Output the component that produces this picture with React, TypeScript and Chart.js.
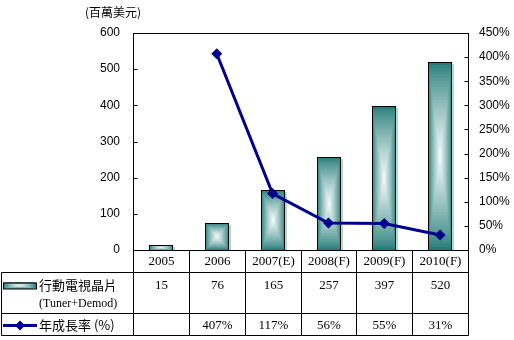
import React, { useEffect, useRef } from "react";
import { Chart, registerables } from "chart.js";

Chart.register(...registerables);

const categories = ["2005", "2006", "2007(E)", "2008(F)", "2009(F)", "2010(F)"];
const chipSales = [15, 76, 165, 257, 397, 520];
const growthRate = [null, 407, 117, 56, 55, 31];
const salesLabels = ["15", "76", "165", "257", "397", "520"];
const growthLabels = ["", "407%", "117%", "56%", "55%", "31%"];
const barLegend = "行動電視晶片";
const barLegendSub = "(Tuner+Demod)";
const lineLegend = "年成長率 (%)";
const unitLabel = "(百萬美元)";

const EDGE = [38, 124, 120];
const CENTER = [246, 252, 252];
const NAVY = "#00008B";
const SERIF = "'Liberation Serif', 'Times New Roman', serif";
const CJK = "'Noto Sans CJK TC', 'Noto Sans', sans-serif";
const SANS = "'Liberation Sans', Arial, sans-serif";

function mix(t: number) {
  const c = EDGE.map((e, i) => Math.round(e + (CENTER[i] - e) * t));
  return `rgb(${c[0]},${c[1]},${c[2]})`;
}

function drawGradRect(ctx: CanvasRenderingContext2D, left: number, top: number, w: number, h: number) {
  const N = 30;
  const cx = left + w / 2;
  const cy = top + h / 2;
  for (let k = 0; k <= N; k++) {
    const t = 1 - k / N;
    const s = Math.pow(1 - t, 0.8);
    ctx.fillStyle = mix(s);
    ctx.fillRect(cx - (t * w) / 2, cy - (t * h) / 2, t * w, t * h);
  }
}

const tablePlugin = {
  id: "tablePlugin",
  afterDatasetDraw(chart: any, args: any) {
    if (args.index !== 0) return;
    const ctx = chart.ctx as CanvasRenderingContext2D;
    const meta = chart.getDatasetMeta(0);
    ctx.save();
    meta.data.forEach((el: any) => {
      const { x, y, base, width } = el.getProps(["x", "y", "base", "width"], true);
      const left = Math.round(x - width / 2);
      const w = Math.round(width);
      const top = Math.round(y);
      const h = Math.round(base) - top;
      ctx.fillStyle = "rgba(150,200,196,0.7)";
      ctx.fillRect(left + w, top + 2, 2, h - 2);
      drawGradRect(ctx, left, top, w, h);
      ctx.strokeStyle = "#000";
      ctx.lineWidth = 1;
      ctx.strokeRect(left + 0.5, top + 0.5, w - 1, h);
    });
    ctx.restore();
  },
  afterDraw(chart: any) {
    const ctx = chart.ctx as CanvasRenderingContext2D;
    const area = chart.chartArea;
    const xs = chart.scales.x;
    const yl = chart.scales.y;
    const yr = chart.scales.y1;
    ctx.save();
    ctx.strokeStyle = "#000";
    ctx.lineWidth = 1;
    const L = Math.round(area.left) + 0.5;
    const R = Math.round(area.right) + 0.5;
    const T = Math.round(area.top) + 0.5;
    const B = Math.round(area.bottom) + 0.5;
    // plot frame
    ctx.strokeRect(L, T, R - L, B - T);
    // inward ticks
    ctx.beginPath();
    yl.ticks.forEach((tk: any) => {
      const py = Math.round(yl.getPixelForValue(tk.value)) + 0.5;
      ctx.moveTo(L, py);
      ctx.lineTo(L + 4, py);
    });
    yr.ticks.forEach((tk: any) => {
      const py = Math.round(yr.getPixelForValue(tk.value)) + 0.5;
      ctx.moveTo(R, py);
      ctx.lineTo(R - 4, py);
    });
    ctx.stroke();

    // table
    const r1 = B + 22;
    const r2 = r1 + 41;
    const r3 = r2 + 22;
    const tableLeft = 1.5;
    const bounds: number[] = [L];
    for (let i = 1; i < categories.length; i++) {
      const m = (xs.getPixelForValue(i - 1) + xs.getPixelForValue(i)) / 2;
      bounds.push(Math.round(m) + 0.5);
    }
    bounds.push(R);
    ctx.beginPath();
    [r1, r2, r3].forEach((ry) => {
      ctx.moveTo(tableLeft, ry);
      ctx.lineTo(R, ry);
    });
    bounds.forEach((bx) => {
      ctx.moveTo(bx, B);
      ctx.lineTo(bx, r3);
    });
    ctx.moveTo(tableLeft, r1);
    ctx.lineTo(tableLeft, r3);
    ctx.stroke();

    ctx.fillStyle = "#000";
    ctx.textAlign = "center";
    ctx.textBaseline = "middle";
    ctx.font = `13px ${SERIF}`;
    categories.forEach((c, i) => {
      const cx = (bounds[i] + bounds[i + 1]) / 2;
      ctx.fillText(c, cx, B + 11);
      ctx.fillText(salesLabels[i], cx, r1 + 13);
      ctx.fillText(growthLabels[i], cx, r2 + 12);
    });

    // legend swatches
    drawGradRect(ctx, 3, r1 + 10, 33, 6);
    ctx.strokeRect(3.5, r1 + 10.5, 33, 6);
    ctx.strokeStyle = NAVY;
    ctx.lineWidth = 3;
    ctx.beginPath();
    ctx.moveTo(3, r2 + 12);
    ctx.lineTo(37, r2 + 12);
    ctx.stroke();
    ctx.fillStyle = NAVY;
    ctx.beginPath();
    const dx = 20, dy = r2 + 12, dr = 5;
    ctx.moveTo(dx, dy - dr);
    ctx.lineTo(dx + dr, dy);
    ctx.lineTo(dx, dy + dr);
    ctx.lineTo(dx - dr, dy);
    ctx.closePath();
    ctx.fill();

    ctx.fillStyle = "#000";
    ctx.textAlign = "left";
    ctx.font = `13px ${CJK}`;
    ctx.fillText(barLegend, 39, r1 + 13);
    ctx.fillText(lineLegend, 39, r2 + 12);
    ctx.font = `12px ${SERIF}`;
    ctx.fillText(barLegendSub, 39, r1 + 31);

    ctx.textAlign = "center";
    ctx.font = `12px ${CJK}`;
    ctx.fillText(unitLabel, 113, 12);
    ctx.restore();
  },
};

export default function App() {
  const ref = useRef<HTMLCanvasElement>(null);
  useEffect(() => {
    if (!ref.current) return;
    const chart = new Chart(ref.current, {
      type: "bar",
      data: {
        labels: categories,
        datasets: [
          {
            type: "bar",
            label: barLegend,
            data: chipSales,
            yAxisID: "y",
            backgroundColor: "rgba(0,0,0,0)",
            borderWidth: 0,
            barPercentage: 0.85,
            categoryPercentage: 0.5,
            order: 1,
          },
          {
            type: "line",
            label: lineLegend,
            data: growthRate as any,
            yAxisID: "y1",
            borderColor: NAVY,
            backgroundColor: NAVY,
            borderWidth: 3,
            pointStyle: "rectRot",
            pointRadius: 5.5,
            pointBorderWidth: 0,
            tension: 0,
            order: 0,
          } as any,
        ],
      },
      options: {
        animation: false,
        responsive: false,
        maintainAspectRatio: false,
        layout: { padding: { top: 33, bottom: 90, left: 0, right: 0 } },
        plugins: { legend: { display: false }, tooltip: { enabled: false } },
        scales: {
          x: { display: false, offset: true, grid: { display: false } },
          y: {
            position: "left",
            min: 0,
            max: 600,
            ticks: { stepSize: 100, padding: 13, color: "#000", font: { size: 12, family: SANS } },
            grid: { display: false, drawTicks: false },
            border: { display: false },
            afterFit: (s: any) => {
              s.width = 133;
            },
          },
          y1: {
            position: "right",
            min: 0,
            max: 450,
            ticks: {
              stepSize: 50,
              padding: 11,
              color: "#000",
              font: { size: 12, family: SANS },
              callback: (v: any) => `${v}%`,
            },
            grid: { display: false, drawTicks: false },
            border: { display: false },
            afterFit: (s: any) => {
              s.width = 46;
            },
          },
        },
      },
      plugins: [tablePlugin],
    });
    return () => chart.destroy();
  }, []);
  return (
    <div style={{ position: "fixed", left: 0, top: 0, width: 514, height: 340, background: "#fff" }}>
      <canvas ref={ref} width={514} height={340} style={{ width: 514, height: 340 }} />
    </div>
  );
}
